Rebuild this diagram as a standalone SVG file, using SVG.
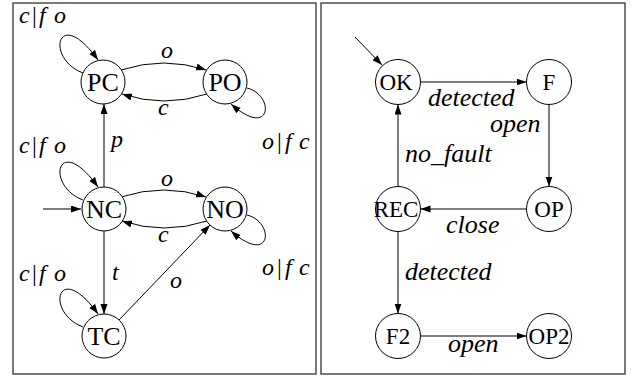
<svg xmlns="http://www.w3.org/2000/svg" width="638" height="379" viewBox="0 0 638 379">
<defs>
<marker id="ah" markerUnits="userSpaceOnUse" markerWidth="11" markerHeight="8" refX="10" refY="3.5" orient="auto">
<path d="M0,0 L10,3.5 L0,7 z" fill="#000"/>
</marker>
<style>
.panel{fill:#fff;stroke:#333;stroke-width:1.3}
.node circle{fill:#fff;stroke:#000;stroke-width:1}
.edge{fill:none;stroke:#000;stroke-width:1;marker-end:url(#ah)}
</style>
</defs>
<rect class="panel" x="13" y="3" width="303" height="371"/>
<rect class="panel" x="321" y="3" width="304" height="371"/>

<g id="connectors">
<path class="edge" d="M43,209 L81,209"/>
<path class="edge" d="M121,70 Q164,56 206,70"/>
<path class="edge" d="M207,94 Q164,108 122,94"/>
<path class="edge" d="M121,197 Q164,183 206,197"/>
<path class="edge" d="M207,221 Q164,235 122,221"/>
<path class="edge" d="M104,187 L104,104"/>
<path class="edge" d="M104,231 L104,314"/>
<path class="edge" d="M119,320 L210,225"/>
<path class="edge" d="M83,73 C44,58 58,4 98,60"/>
<path class="edge" d="M83,200 C44,185 58,131 98,187"/>
<path class="edge" d="M83,327 C44,312 58,258 98,314"/>
<path class="edge" d="M247,88 C275,95 272,140 231,104"/>
<path class="edge" d="M247,215 C275,222 272,267 231,231"/>

<path class="edge" d="M355,37 L382,65"/>
<path class="edge" d="M420.5,82 L526.5,82"/>
<path class="edge" d="M549,104.5 L549,186.5"/>
<path class="edge" d="M526.5,209 L420.5,209"/>
<path class="edge" d="M398,186.5 L398,104.5"/>
<path class="edge" d="M398,231.5 L398,313.5"/>
<path class="edge" d="M420.5,336 L526.5,336"/>
</g>

<g id="labels" font-family="Liberation Serif, serif" font-style="italic" fill="#000">
<g font-size="24">
<text><tspan x="19" y="23">c</tspan><tspan font-style="normal" x="32" y="23">|</tspan><tspan x="39" y="23">f</tspan><tspan x="54" y="23">o</tspan></text>
<text><tspan x="19" y="153">c</tspan><tspan font-style="normal" x="32" y="153">|</tspan><tspan x="39" y="153">f</tspan><tspan x="54" y="153">o</tspan></text>
<text><tspan x="19" y="281">c</tspan><tspan font-style="normal" x="32" y="281">|</tspan><tspan x="39" y="281">f</tspan><tspan x="54" y="281">o</tspan></text>
<text><tspan x="262" y="149">o</tspan><tspan font-style="normal" x="277" y="149">|</tspan><tspan x="285" y="149">f</tspan><tspan x="299" y="149">c</tspan></text>
<text><tspan x="262" y="275">o</tspan><tspan font-style="normal" x="277" y="275">|</tspan><tspan x="285" y="275">f</tspan><tspan x="299" y="275">c</tspan></text>
<text x="161" y="58">o</text>
<text x="158" y="115">c</text>
<text x="161" y="186">o</text>
<text x="158" y="242">c</text>
<text x="111" y="147">p</text>
<text x="112" y="280">t</text>
<text x="170" y="288">o</text>
</g>
<g font-size="26">
<text x="428" y="106">detected</text>
<text x="490" y="132">open</text>
<text x="405" y="162">no_fault</text>
<text x="446" y="233">close</text>
<text x="405" y="280">detected</text>
<text x="448" y="352">open</text>
</g>
</g>

<g font-family="Liberation Serif, serif" font-size="26" text-anchor="middle" fill="#000">
<g id="PC" class="node"><circle cx="103" cy="82" r="22"/><text x="103" y="91">PC</text></g>
<g id="PO" class="node"><circle cx="225" cy="82" r="22"/><text x="225" y="91">PO</text></g>
<g id="NC" class="node"><circle cx="104" cy="209" r="22"/><text x="104" y="218">NC</text></g>
<g id="NO" class="node"><circle cx="225" cy="209" r="22"/><text x="225" y="218">NO</text></g>
<g id="TC" class="node"><circle cx="104" cy="336" r="22"/><text x="104" y="345">TC</text></g>
</g>
<g font-family="Liberation Serif, serif" font-size="23" text-anchor="middle" fill="#000">
<g id="OK" class="node"><circle cx="398" cy="82" r="22.5"/><text x="396" y="90">OK</text></g>
<g id="F" class="node"><circle cx="549" cy="82" r="22.5"/><text x="549" y="90">F</text></g>
<g id="REC" class="node"><circle cx="398" cy="209" r="22.5"/><text x="396" y="217">REC</text></g>
<g id="OP" class="node"><circle cx="549" cy="209" r="22.5"/><text x="549" y="217">OP</text></g>
<g id="F2" class="node"><circle cx="398" cy="336" r="22.5"/><text x="398" y="344">F2</text></g>
<g id="OP2" class="node"><circle cx="549" cy="336" r="22.5"/><text x="549" y="344">OP2</text></g>
</g>
</svg>
